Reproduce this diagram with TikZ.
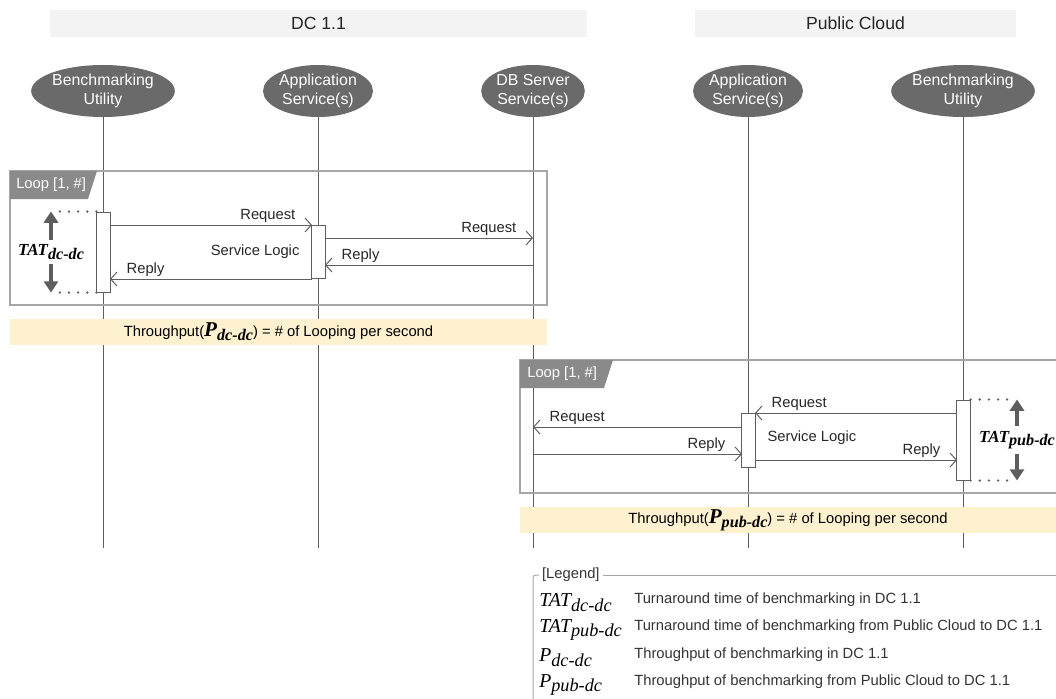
\documentclass[tikz,border=0pt]{standalone}
\usepackage{fontspec}
\setsansfont{Liberation Sans}
\newfontfamily\tatserif{Liberation Serif}
\usetikzlibrary{positioning, shapes.geometric, arrows.meta}

\definecolor{actorgray}{HTML}{6A6A6A}
\definecolor{linegray}{HTML}{5E5E5E}
\definecolor{framegray}{HTML}{A6A6A6}
\definecolor{taggray}{HTML}{8A8A8A}
\definecolor{headfill}{HTML}{F3F3F3}
\definecolor{bandfill}{HTML}{FDF1CF}
\definecolor{legtext}{HTML}{333333}

\newcommand{\tatbold}[1]{{\tatserif\bfseries\itshape\fontsize{12}{14}\selectfont TAT\raisebox{-0.45ex}{\fontsize{11.5}{13}\selectfont #1}}}
\newcommand{\pbold}[1]{{\tatserif\bfseries\itshape\fontsize{15}{17}\selectfont P\raisebox{-0.4ex}{\fontsize{11.5}{13}\selectfont #1}}}
\newcommand{\legsym}[2]{{\tatserif\itshape\fontsize{14}{16}\selectfont #1\raisebox{-0.5ex}{\fontsize{13}{15}\selectfont #2}}}

\begin{document}
\begin{tikzpicture}[x=0.025cm, y=-0.025cm, font=\sffamily\fontsize{10.5}{12.5}\selectfont,
    header/.style={fill=headfill, minimum height=0.675cm, inner sep=0pt, text=black!85, font=\sffamily\fontsize{12.5}{14}\selectfont},
    actor/.style={ellipse, fill=actorgray, text=white, minimum width=2.25cm, minimum height=1.3cm, inner sep=0pt, align=center, font=\sffamily\fontsize{11.3}{13.5}\selectfont},
    life/.style={draw=linegray, line width=0.7pt},
    bar/.style={draw=linegray, fill=white, line width=0.7pt, minimum width=0.33cm, inner sep=0pt},
    msg/.style={draw=linegray, line width=0.7pt, -{Straight Barb[length=4.5pt, width=10pt]}},
    endl/.style={pos=1, anchor=south east, xshift=-10pt, inner sep=1.5pt, text=black!85},
    endr/.style={pos=1, anchor=south west, xshift=10pt, inner sep=1.5pt, text=black!85},
    loopbox/.style={draw=framegray, line width=1pt},
    looptag/.style={text=white, anchor=west, inner sep=0pt},
    band/.style={fill=bandfill, minimum height=0.65cm, inner sep=0pt},
    dots/.style={draw=linegray, line width=1.8pt, line cap=round, dash pattern=on 0pt off 6.5pt},
    tatarrow/.style={draw=linegray, line width=2.2pt, -{Triangle[length=8pt, width=10pt]}},
    legline/.style={draw=framegray, line width=0.7pt, rounded corners=2pt}]

        \useasboundingbox (0,0) rectangle (1056,698);

        % Headers
        \node[header, minimum width=13.425cm] (dc) at (318.5,23.5) {DC 1.1};
        \node[header, minimum width=8.025cm] (pub) at (855.5,23.5) {Public Cloud};

        % Actors
        \node[actor] (bu1) at (103,91) {Benchmarking\\Utility};
        \node[actor] (as1) at (318,91) {Application\\Service(s)};
        \node[actor] (db) at (533,91) {DB Server\\Service(s)};
        \node[actor] (as2) at (748,91) {Application\\Service(s)};
        \node[actor] (bu2) at (963,91) {Benchmarking\\Utility};

        % Lifelines
        \foreach \a/\x in {bu1/103, as1/318, db/533, as2/748, bu2/963} {
            \coordinate (\a-end) at (\x,548);
            \draw[life] (\a) -- (\a-end);
        }

        % Loop frames
        \draw[loopbox] (10,171) rectangle (547,305);
        \fill[taggray] (10,171) -- (97,171) -- (88,199) -- (10,199) -- cycle;
        \node[looptag] (tag1) at (16,185) {Loop [1, \#]};

        \draw[loopbox] (1056,360) -- (520,360) -- (520,493) -- (1056,493);
        \fill[taggray] (520,360) -- (613,360) -- (604,388) -- (520,388) -- cycle;
        \node[looptag] (tag2) at (527,374) {Loop [1, \#]};

        % Throughput bands
        \node[band, minimum width=13.425cm] (tp1) at (278.5,332) {Throughput(\pbold{dc-dc}) = \# of Looping per second};
        \node[band, minimum width=13.4cm] (tp2) at (788,520) {Throughput(\pbold{pub-dc}) = \# of Looping per second};

        % Activations
        \node[bar, minimum height=2cm] (bu1bar) at (103.5,252) {};
        \node[bar, minimum height=1.325cm] (as1bar) at (318.5,251.5) {};
        \node[bar, minimum height=1.35cm] (as2bar) at (748.5,440) {};
        \node[bar, minimum height=2cm] (bu2bar) at (963.5,440) {};

        \node[left=5pt of as1bar, text=black!85] (sl1) {Service Logic};
        \node[right=5pt of as2bar, yshift=1.5pt, text=black!85] (sl2) {Service Logic};

        % Messages
        \foreach \n/\x/\y in {m1a/110/225, m1b/312/225, m2a/325/238, m2b/533/238,
                              m3a/533/265, m3b/325/265, m4a/312/279, m4b/110/279,
                              m5a/957/413, m5b/755/413, m6a/742/427, m6b/533/427,
                              m7a/533/454, m7b/742/454, m8a/755/460, m8b/957/460} {
            \coordinate (\n) at (\x,\y);
        }
        \draw[msg] (m1a) -- node[endl] {Request} (m1b);
        \draw[msg] (m2a) -- node[endl] {Request} (m2b);
        \draw[msg] (m3a) -- node[endr] {Reply} (m3b);
        \draw[msg] (m4a) -- node[endr] {Reply} (m4b);
        \draw[msg] (m5a) -- node[endr] {Request} (m5b);
        \draw[msg] (m6a) -- node[endr] {Request} (m6b);
        \draw[msg] (m7a) -- node[endl] {Reply} (m7b);
        \draw[msg] (m8a) -- node[endl] {Reply} (m8b);

        % Turnaround times
        \node (tat1) at (51,252) {\tatbold{dc-dc}};
        \draw[tatarrow] (tat1.north) -- (tat1.north |- bu1bar.north);
        \draw[tatarrow] (tat1.south) -- (tat1.south |- bu1bar.south);
        \draw[dots] (bu1bar.north west) -- ([xshift=5pt]tat1.north |- bu1bar.north);
        \draw[dots] (bu1bar.south west) -- ([xshift=5pt]tat1.south |- bu1bar.south);

        \node (tat2) at (1017,440) {\tatbold{pub-dc}};
        \draw[tatarrow] (tat2.north) -- (tat2.north |- bu2bar.north);
        \draw[tatarrow] (tat2.south) -- (tat2.south |- bu2bar.south);
        \draw[dots] (bu2bar.north east) -- ([xshift=-5pt]tat2.north |- bu2bar.north);
        \draw[dots] (bu2bar.south east) -- ([xshift=-5pt]tat2.south |- bu2bar.south);

        % Legend
        \node[anchor=west, text=legtext, inner sep=2pt] (leg) at (539,575) {[Legend]};
        \coordinate (legcorner) at (533,575);
        \coordinate (legfoot) at (533,700);
        \coordinate (legright) at (1056,575);
        \draw[legline] (leg.west) -- (legcorner) -- (legfoot);
        \draw[legline] (leg.east) -- (legright);

        \foreach \sym/\sub/\txt [count=\i] in {TAT/dc-dc/Turnaround time of benchmarking in DC 1.1,
                                              TAT/pub-dc/Turnaround time of benchmarking from Public Cloud to DC 1.1,
                                              P/dc-dc/Throughput of benchmarking in DC 1.1,
                                              P/pub-dc/Throughput of benchmarking from Public Cloud to DC 1.1} {
            \node[anchor=west, inner sep=0pt] (sym\i) at (539, 575+27.5*\i) {\legsym{\sym}{\sub}};
            \node[anchor=west, inner sep=0pt, text=legtext] (desc\i) at (634, 572+27.5*\i) {\txt};
        }
    \end{tikzpicture}
\end{document}
